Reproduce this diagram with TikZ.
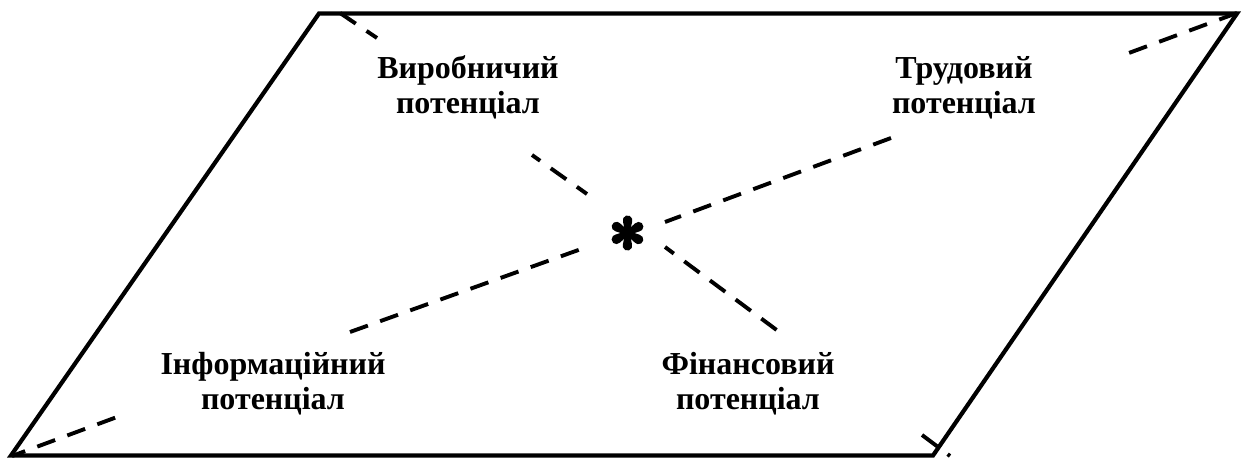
\documentclass[tikz,border=0pt]{standalone}
\usepackage{fontspec}
\setmainfont{Liberation Serif}
\begin{document}
\begin{tikzpicture}[x=1pt,y=-1pt,
  frame/.style={line width=4.2pt, line join=miter},
  dline/.style={line width=3.9pt, dash pattern=on 19pt off 13pt},
  lbl/.style={anchor=base, inner sep=0pt, font=\bfseries\fontsize{32}{35.5}\selectfont},
  petal/.style={fill=black}]
\useasboundingbox (0,0) rectangle (1245,458);
% parallelogram corners
\coordinate (A) at (319,13.5);
\coordinate (B) at (1237,13.5);
\coordinate (C) at (933,455.5);
\coordinate (D) at (11,455.5);
\draw[frame] (A) -- (B) -- (C) -- (D) -- cycle;
% centre asterisk
\node[minimum size=34pt, inner sep=0pt] (star) at (627.5,233) {};
\foreach \a in {30,90,150,210,270,330}{
  \begin{scope}[shift={(star.center)}, rotate=\a]
    \fill[petal] (0,-2.2) -- (11.3,-4.5) arc[start angle=-108, end angle=108, radius=4.8] -- (0,2.2) -- cycle;
  \end{scope}
}
\fill (star.center) circle[radius=3.5];
% labels
\node[lbl] (vyr) at (468,78) {\begin{tabular}[t]{@{}c@{}}Виробничий\\потенціал\end{tabular}};
\node[lbl] (trud) at (964,78) {\begin{tabular}[t]{@{}c@{}}Трудовий\\потенціал\end{tabular}};
\node[lbl] (inf) at (273,374) {\begin{tabular}[t]{@{}c@{}}Інформаційний\\потенціал\end{tabular}};
\node[lbl] (fin) at (748,374) {\begin{tabular}[t]{@{}c@{}}Фінансовий\\потенціал\end{tabular}};
% dashed line end points
\coordinate (tl1) at (340,13);   \coordinate (tl2) at (377,38);
\coordinate (tl3) at (532,155);  \coordinate (tl4) at (587,194);
\coordinate (tr1) at (1237,13);  \coordinate (tr2) at (1118,57);
\coordinate (tr3) at (891,138);  \coordinate (tr4) at (665,222);
\coordinate (bl1) at (12,456);   \coordinate (bl2) at (117,417);
\coordinate (bl3) at (350,332);  \coordinate (bl4) at (584,248);
\coordinate (br1) at (665,247);  \coordinate (br2) at (778,331);
\coordinate (br3) at (922,435);  \coordinate (br4) at (950,456);
\draw[dline] (tl1) -- (tl2);
\draw[dline, dash phase=9pt] (tl3) -- (tl4);
\draw[dline] (tr1) -- (tr2);
\draw[dline] (tr3) -- (tr4);
\draw[dline, dash phase=5pt] (bl1) -- (bl2);
\draw[dline] (bl3) -- (bl4);
\draw[dline, dash phase=8pt] (br1) -- (br2);
\draw[dline] (br3) -- (br4);
\end{tikzpicture}
\end{document}
